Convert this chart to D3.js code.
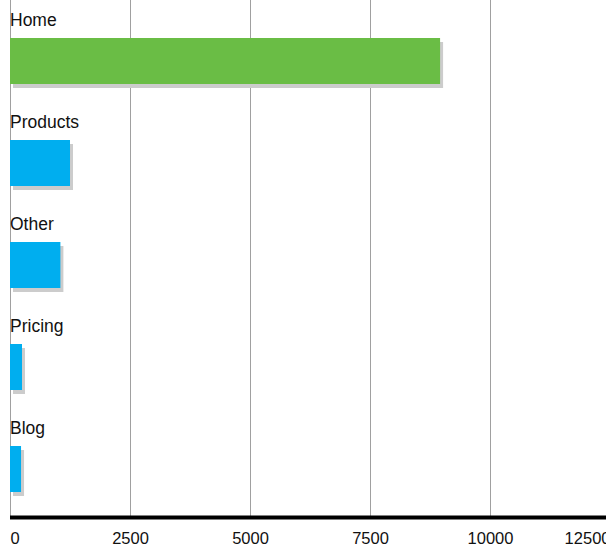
<!DOCTYPE html>
<html>
<head>
<meta charset="utf-8">
<script src="https://cdn.jsdelivr.net/npm/d3@7"></script>
<style>
body { margin: 0; background: #fff; }
svg { display: block; font-family: Arial, "Liberation Sans", sans-serif; }
</style>
</head>
<body>
<div class="chart"></div>
<script>
var width = 606, height = 548;

// data
var pages = ["Home", "Products", "Other", "Pricing", "Blog"];
var views = [8960, 1250, 1050, 250, 230];
var barColors = ["#6abd45", "#00aeef", "#00aeef", "#00aeef", "#00aeef"];
var tickValues = [0, 2500, 5000, 7500, 10000, 12500];

var svg = d3.select(".chart").append("svg").attr("width", width).attr("height", height);

var x = d3.scaleLinear().domain([0, 12500]).range([10, 610]);
var y = d3.scaleBand().domain(pages).range([0, 510]);

var axisY = 517.5;

// vertical grid lines
svg.append("g").attr("class", "grid")
    .selectAll("line")
    .data(tickValues)
    .enter()
    .append("line")
    .attr("x1", function(d) { return Math.round(x(d)) + 0.5; })
    .attr("x2", function(d) { return Math.round(x(d)) + 0.5; })
    .attr("y1", 0)
    .attr("y2", axisY)
    .style("stroke", "#a0a0a0")
    .style("stroke-width", 1);

var rows = svg.append("g").attr("class", "rows")
    .selectAll("g")
    .data(pages)
    .enter()
    .append("g")
    .attr("transform", function(d) { return "translate(0," + y(d) + ")"; });

// shadow
rows.append("rect")
    .attr("x", x(0) + 3)
    .attr("y", 42)
    .attr("width", function(d, i) { return x(views[i]) - x(0); })
    .attr("height", 46)
    .style("fill", "#cccccc");

// bar
rows.append("rect")
    .attr("x", x(0))
    .attr("y", 38)
    .attr("width", function(d, i) { return x(views[i]) - x(0); })
    .attr("height", 46)
    .style("fill", function(d, i) { return barColors[i]; });

// label
rows.append("text")
    .attr("x", x(0))
    .attr("y", 26)
    .text(function(d) { return d; })
    .style("font-size", "17.5px")
    .style("fill", "#111");

// axis line
svg.append("line")
    .attr("x1", x(0))
    .attr("x2", width)
    .attr("y1", axisY)
    .attr("y2", axisY)
    .style("stroke", "#000")
    .style("stroke-width", 4);

// tick labels
var lastTick = tickValues[tickValues.length - 1];
var xAxis = svg.append("g")
    .attr("transform", "translate(0," + axisY + ")")
    .call(d3.axisBottom(x).tickValues(tickValues).tickSize(0).tickPadding(0).tickFormat(d3.format("d")));
xAxis.select(".domain").remove();
xAxis.selectAll("text")
    .attr("dy", null)
    .attr("y", 26)
    .style("font-size", "16.5px")
    .style("font-family", "Arial, 'Liberation Sans', sans-serif")
    .style("fill", "#111")
    .attr("text-anchor", function(d) { return d === 0 ? "start" : (d === lastTick ? "end" : "middle"); });
</script>
</body>
</html>
